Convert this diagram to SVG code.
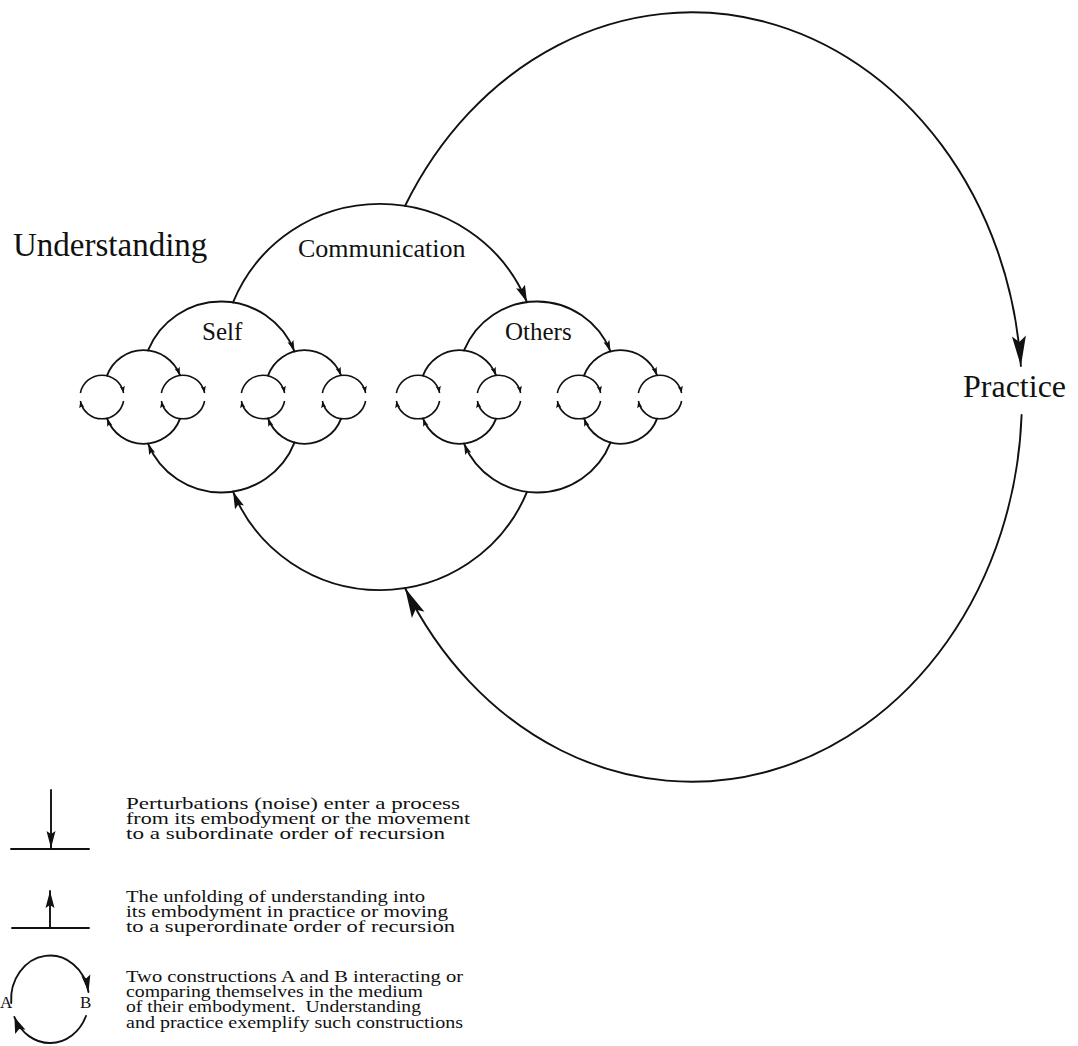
<svg xmlns="http://www.w3.org/2000/svg" width="1078" height="1046" viewBox="0 0 1078 1046">
<style>
.a{fill:none;stroke:#111;stroke-width:1.9;stroke-linecap:round}
.a0{fill:none;stroke:#111;stroke-width:1.6}
.lbl{font-family:"Liberation Serif","Times New Roman",serif;fill:#111}
.leg{font-family:"Liberation Serif","Times New Roman",serif;font-size:17px;fill:#111}
.hd{fill:#111;stroke:none}
</style>
<defs>
<marker id="m0" markerUnits="userSpaceOnUse" orient="auto" refX="0" refY="0" markerWidth="1" markerHeight="1" overflow="visible"><path class="hd" d="M0,0 L-7,-2.6 L-5.5,0 L-7,2.6 Z"/></marker>
<marker id="m1" markerUnits="userSpaceOnUse" orient="auto" refX="0" refY="0" markerWidth="1" markerHeight="1" overflow="visible"><path class="hd" d="M0,0 L-8,-2.7 L-6.5,0 L-8,2.7 Z"/></marker>
<marker id="m2" markerUnits="userSpaceOnUse" orient="auto" refX="0" refY="0" markerWidth="1" markerHeight="1" overflow="visible"><path class="hd" d="M0,0 L-11,-3.2 L-9,0 L-11,3.2 Z"/></marker>
<marker id="m3" markerUnits="userSpaceOnUse" orient="auto" refX="0" refY="0" markerWidth="1" markerHeight="1" overflow="visible"><path class="hd" d="M0,0 L-17,-4.8 L-14,0 L-17,4.8 Z"/></marker>
<marker id="mP" markerUnits="userSpaceOnUse" orient="auto" refX="0" refY="0" markerWidth="1" markerHeight="1" overflow="visible"><path class="hd" d="M0,0 L-30,-7 L-24,0 L-30,7 Z"/></marker>
<marker id="mL" markerUnits="userSpaceOnUse" orient="auto" refX="0" refY="0" markerWidth="1" markerHeight="1" overflow="visible"><path class="hd" d="M0,0 L-17,-4.5 L-14,0 L-17,4.5 Z"/></marker>
<marker id="mL2" markerUnits="userSpaceOnUse" orient="auto" refX="0" refY="0" markerWidth="1" markerHeight="1" overflow="visible"><path class="hd" d="M0,0 L-16,-5.5 L-13,0 L-16,5.5 Z"/></marker>
</defs>
<rect width="1078" height="1046" fill="#fff"/>

<g id="connectors">
  <g id="level0">
    <path class="a0" marker-end="url(#m0)" d="M80.4,393 A22,22 0 0 1 123.6,393"/>
    <path class="a0" marker-end="url(#m0)" d="M123.6,401 A22,22 0 0 1 80.4,401"/>
    <path class="a0" marker-end="url(#m0)" d="M161.4,393 A22,22 0 0 1 204.6,393"/>
    <path class="a0" marker-end="url(#m0)" d="M204.6,401 A22,22 0 0 1 161.4,401"/>
    <path class="a0" marker-end="url(#m0)" d="M241.4,393 A22,22 0 0 1 284.6,393"/>
    <path class="a0" marker-end="url(#m0)" d="M284.6,401 A22,22 0 0 1 241.4,401"/>
    <path class="a0" marker-end="url(#m0)" d="M322.4,393 A22,22 0 0 1 365.6,393"/>
    <path class="a0" marker-end="url(#m0)" d="M365.6,401 A22,22 0 0 1 322.4,401"/>
    <path class="a0" marker-end="url(#m0)" d="M396.4,393 A22,22 0 0 1 439.6,393"/>
    <path class="a0" marker-end="url(#m0)" d="M439.6,401 A22,22 0 0 1 396.4,401"/>
    <path class="a0" marker-end="url(#m0)" d="M477.4,393 A22,22 0 0 1 520.6,393"/>
    <path class="a0" marker-end="url(#m0)" d="M520.6,401 A22,22 0 0 1 477.4,401"/>
    <path class="a0" marker-end="url(#m0)" d="M557.4,393 A22,22 0 0 1 600.6,393"/>
    <path class="a0" marker-end="url(#m0)" d="M600.6,401 A22,22 0 0 1 557.4,401"/>
    <path class="a0" marker-end="url(#m0)" d="M638.4,393 A22,22 0 0 1 681.6,393"/>
    <path class="a0" marker-end="url(#m0)" d="M681.6,401 A22,22 0 0 1 638.4,401"/>
  </g>
  <g id="level1">
    <path class="a" marker-end="url(#m1)" d="M107,375.6 A39,39 0 0 1 180,375.2"/>
    <path class="a" marker-end="url(#m1)" d="M180,418.8 A39,39 0 0 1 107,418.4"/>
    <path class="a" marker-end="url(#m1)" d="M268,375.6 A39,39 0 0 1 341,375.2"/>
    <path class="a" marker-end="url(#m1)" d="M341,418.8 A39,39 0 0 1 268,418.4"/>
    <path class="a" marker-end="url(#m1)" d="M423,375.6 A39,39 0 0 1 496,375.2"/>
    <path class="a" marker-end="url(#m1)" d="M496,418.8 A39,39 0 0 1 423,418.4"/>
    <path class="a" marker-end="url(#m1)" d="M584,375.6 A39,39 0 0 1 657,375.2"/>
    <path class="a" marker-end="url(#m1)" d="M657,418.8 A39,39 0 0 1 584,418.4"/>
  </g>
  <g id="level2">
    <path class="a" marker-end="url(#m2)" d="M148,350.4 A79,79 0 0 1 294.5,351.4"/>
    <path class="a" marker-end="url(#m2)" d="M294.5,442.6 A79,79 0 0 1 148,443.6"/>
    <path class="a" marker-end="url(#m2)" d="M464,350.4 A79,79 0 0 1 610.5,351.4"/>
    <path class="a" marker-end="url(#m2)" d="M610.5,442.6 A79,79 0 0 1 464,443.6"/>
  </g>
  <g id="level3">
    <path class="a" marker-end="url(#m3)" d="M233,302.4 A159,159 0 0 1 527,302.2"/>
    <path class="a" marker-end="url(#m3)" d="M527,491.8 A159,159 0 0 1 233,491.6"/>
  </g>
  <g id="level4">
    <path class="a" stroke-width="2.1" marker-end="url(#mP)" d="M405,206 A330,383 0 0 1 1020.9,366"/>
    <path class="a" stroke-width="2.1" marker-end="url(#mP)" d="M1021.6,415 A330,383 0 0 1 405,588"/>
  </g>
</g>

<g id="node-understanding"><text class="lbl" x="13" y="256" font-size="33">Understanding</text></g>
<g id="node-communication"><text class="lbl" x="298" y="257" font-size="26">Communication</text></g>
<g id="node-self"><text class="lbl" x="202" y="340" font-size="25">Self</text></g>
<g id="node-others"><text class="lbl" x="505" y="340" font-size="25">Others</text></g>
<g id="node-practice"><text class="lbl" x="963" y="397" font-size="32">Practice</text></g>

<g id="legend">
  <g id="legend-down">
    <path class="a" d="M11,849 H89"/>
    <path class="a" marker-end="url(#mL)" d="M51,790 V848"/>
    <text class="leg" x="126" y="809" textLength="334" lengthAdjust="spacingAndGlyphs">Perturbations (noise) enter a process</text>
    <text class="leg" x="126" y="824" textLength="344" lengthAdjust="spacingAndGlyphs">from its embodyment or the movement</text>
    <text class="leg" x="126" y="839" textLength="319" lengthAdjust="spacingAndGlyphs">to a subordinate order of recursion</text>
  </g>
  <g id="legend-up">
    <path class="a" d="M12,928 H89"/>
    <path class="a" marker-end="url(#mL)" d="M50,928 V891"/>
    <text class="leg" x="126" y="902" textLength="299" lengthAdjust="spacingAndGlyphs">The unfolding of understanding into</text>
    <text class="leg" x="126" y="917" textLength="322" lengthAdjust="spacingAndGlyphs">its embodyment in practice or moving</text>
    <text class="leg" x="126" y="932" textLength="329" lengthAdjust="spacingAndGlyphs">to a superordinate order of recursion</text>
  </g>
  <g id="legend-pair">
    <path class="a" marker-end="url(#mL)" d="M11.2,1003 A39,44 0 0 1 88.5,992"/>
    <path class="a" marker-end="url(#mL2)" d="M86,1016 A39,44 0 0 1 14.4,1017"/>
    <text class="leg" x="0" y="1008">A</text>
    <text class="leg" x="80" y="1008">B</text>
    <text class="leg" x="126" y="982" textLength="337" lengthAdjust="spacingAndGlyphs">Two constructions A and B interacting or</text>
    <text class="leg" x="126" y="997" textLength="297" lengthAdjust="spacingAndGlyphs">comparing themselves in the medium</text>
    <text class="leg" x="126" y="1012" textLength="295" lengthAdjust="spacingAndGlyphs">of their embodyment.&#160; Understanding</text>
    <text class="leg" x="126" y="1028" textLength="337" lengthAdjust="spacingAndGlyphs">and practice exemplify such constructions</text>
  </g>
</g>
</svg>
